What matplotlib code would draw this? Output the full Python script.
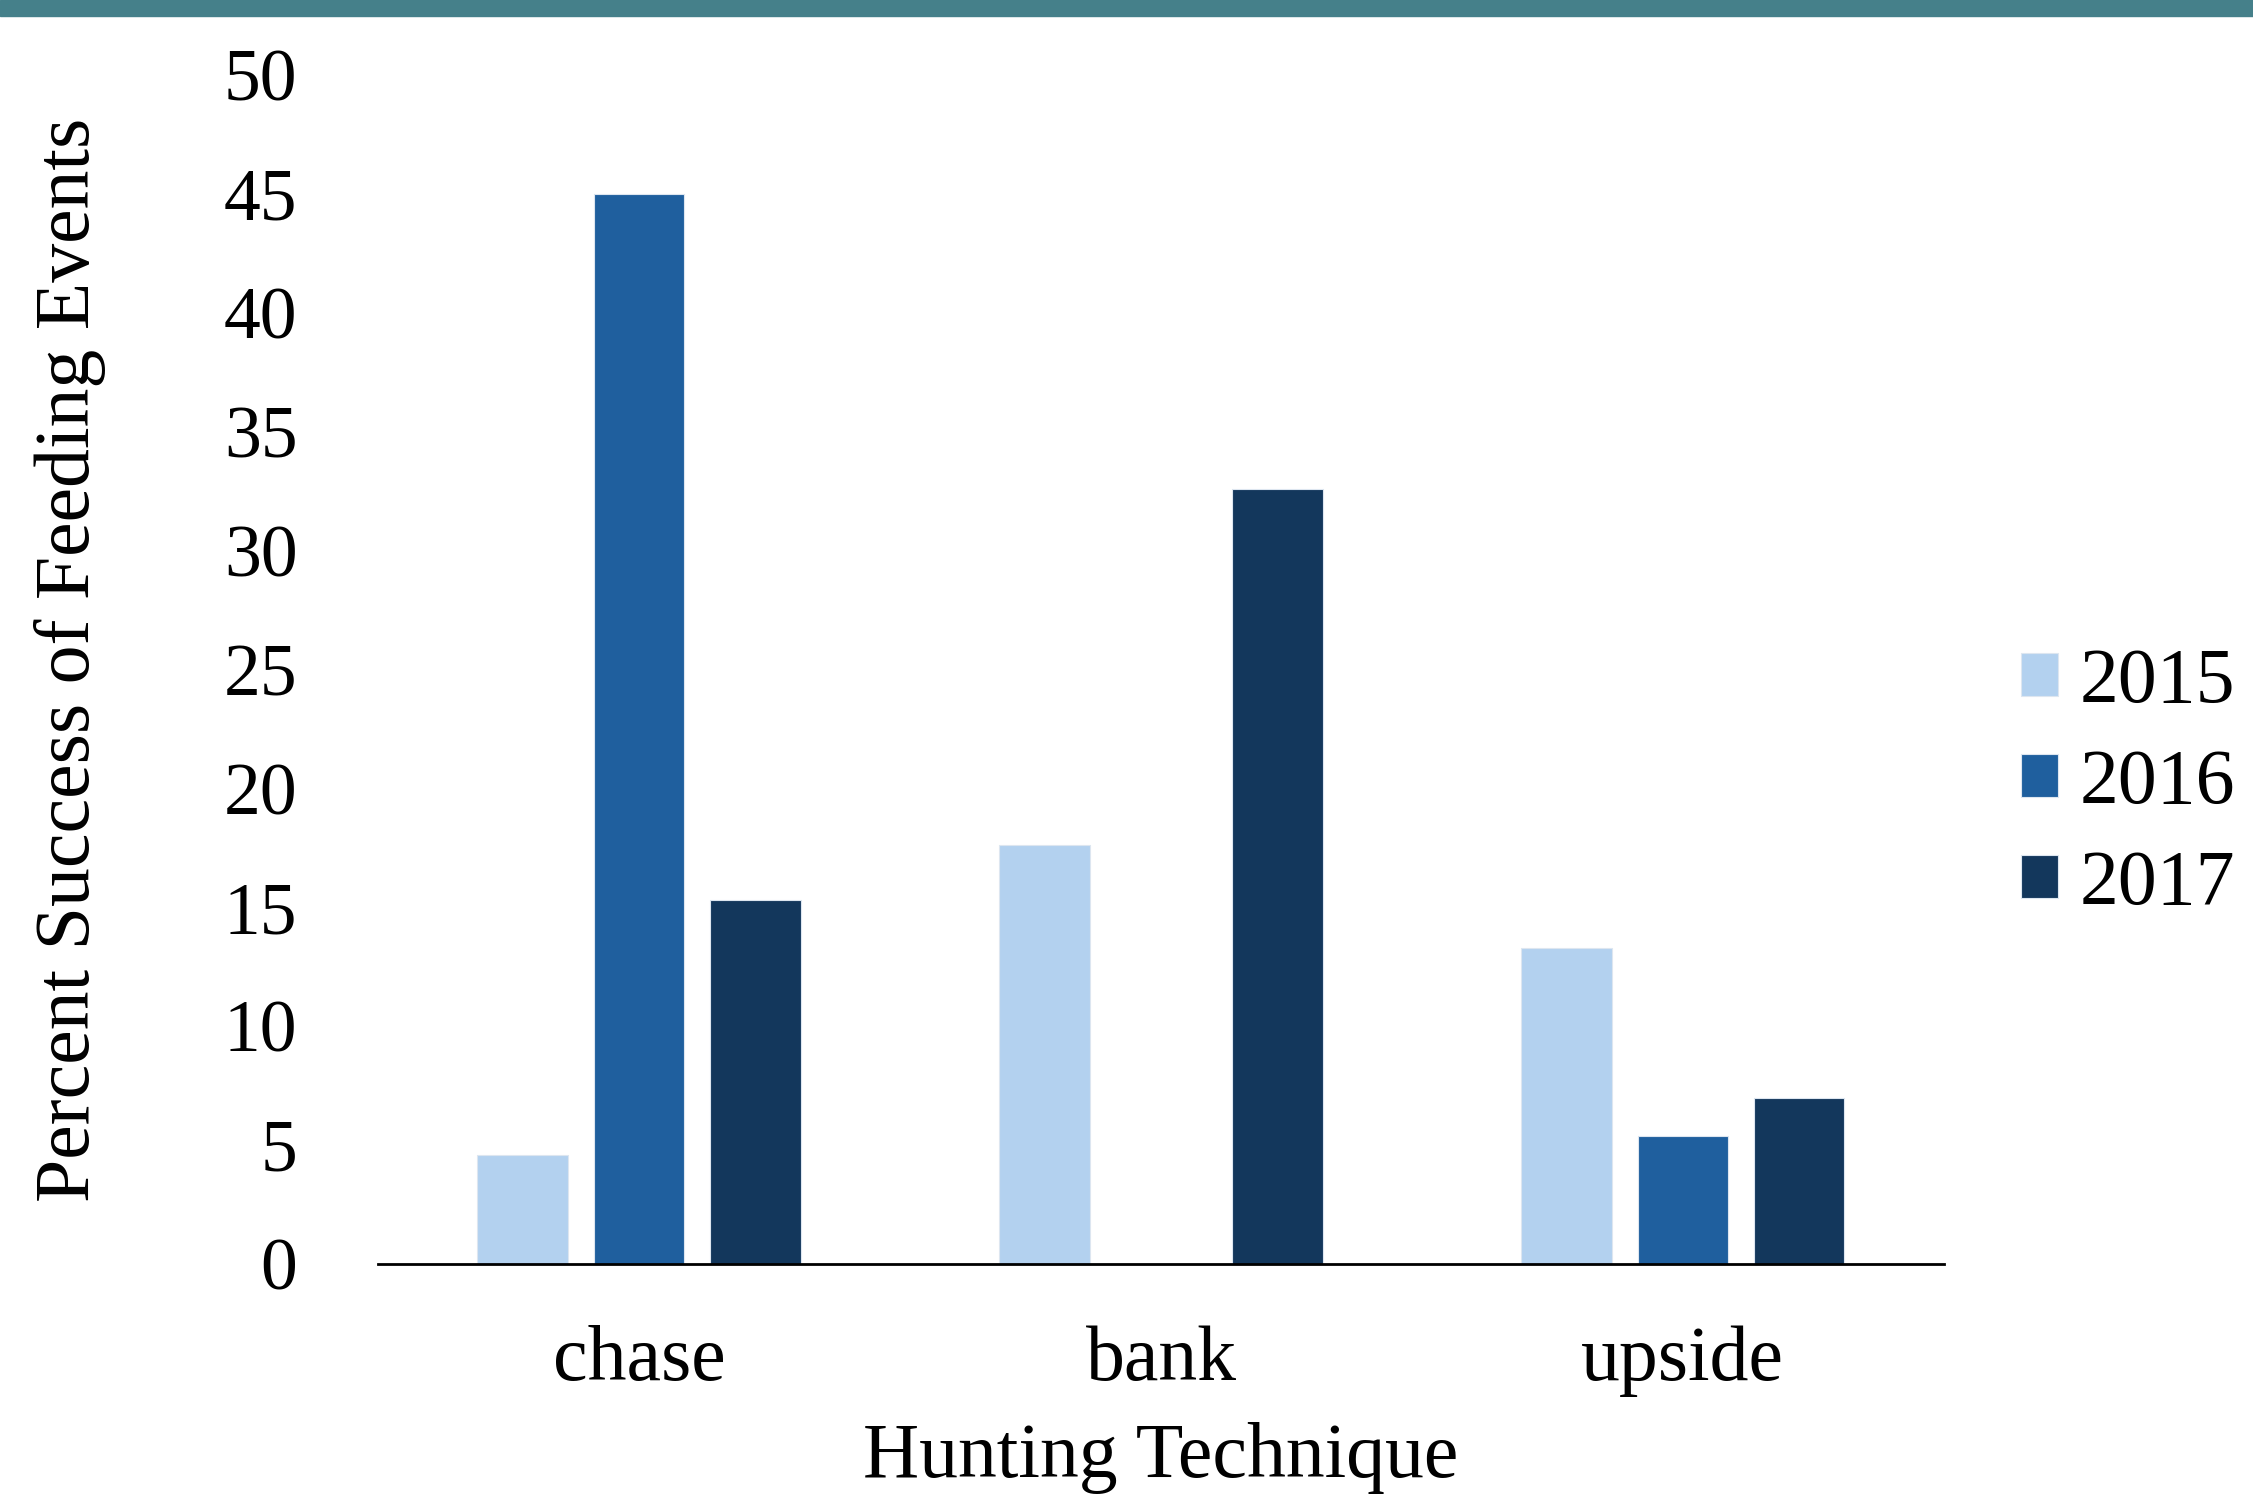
import matplotlib.pyplot as plt
import numpy as np

# percent success of feeding events by hunting technique and year
techniques = ['chase', 'bank', 'upside']
years = ['2015', '2016', '2017']
success_2015 = [4.6, 17.6, 13.3]
success_2016 = [45.0, 0.0, 5.4]
success_2017 = [15.3, 32.6, 7.0]

colors = ['#B3D1EF', '#1F5F9E', '#13375C']

plt.rcParams['font.family'] = ['Liberation Serif', 'DejaVu Serif']

fig = plt.figure(figsize=(22.53, 14.97), dpi=100)

# teal band across the top of the slide
fig.patches.append(plt.Rectangle((0, 1 - 16 / 1497), 1, 16 / 1497,
                                 transform=fig.transFigure,
                                 color='#45808A', zorder=0))

ax = fig.add_axes([0.1678, 0.1556, 0.695, 0.7944])

x = np.arange(len(techniques))
width = 0.173
step = 0.223
series = [success_2015, success_2016, success_2017]
for i, (vals, yr) in enumerate(zip(series, years)):
    ax.bar(x + (i - 1) * step, vals, width, color=colors[i], label=yr,
           edgecolor='#DDE6F0', linewidth=0.8)

ax.set_xlim(-0.5, 2.5)
ax.set_ylim(0, 50)
ax.set_yticks(range(0, 51, 5))
ax.set_xticks(x)
ax.set_xticklabels(techniques)
ax.tick_params(axis='both', length=0)
ax.tick_params(axis='x', labelsize=56, pad=44)
ax.tick_params(axis='y', labelsize=53, pad=58)

for side in ['top', 'right', 'left']:
    ax.spines[side].set_visible(False)
ax.spines['bottom'].set_linewidth(2)
ax.spines['bottom'].set_color('black')

ax.set_xlabel('Hunting Technique', fontsize=56, labelpad=18)
ax.set_ylabel('Percent Success of Feeding Events', fontsize=56)
ax.yaxis.set_label_coords(-0.174, 0.508)

fig.legend(loc='center left', bbox_to_anchor=(0.897, 0.476), frameon=False,
           fontsize=56, handlelength=0.48, handleheight=0.48,
           handletextpad=0.27, labelspacing=0.38,
           borderpad=0, borderaxespad=0)

fig.savefig('out.png', dpi=100)
